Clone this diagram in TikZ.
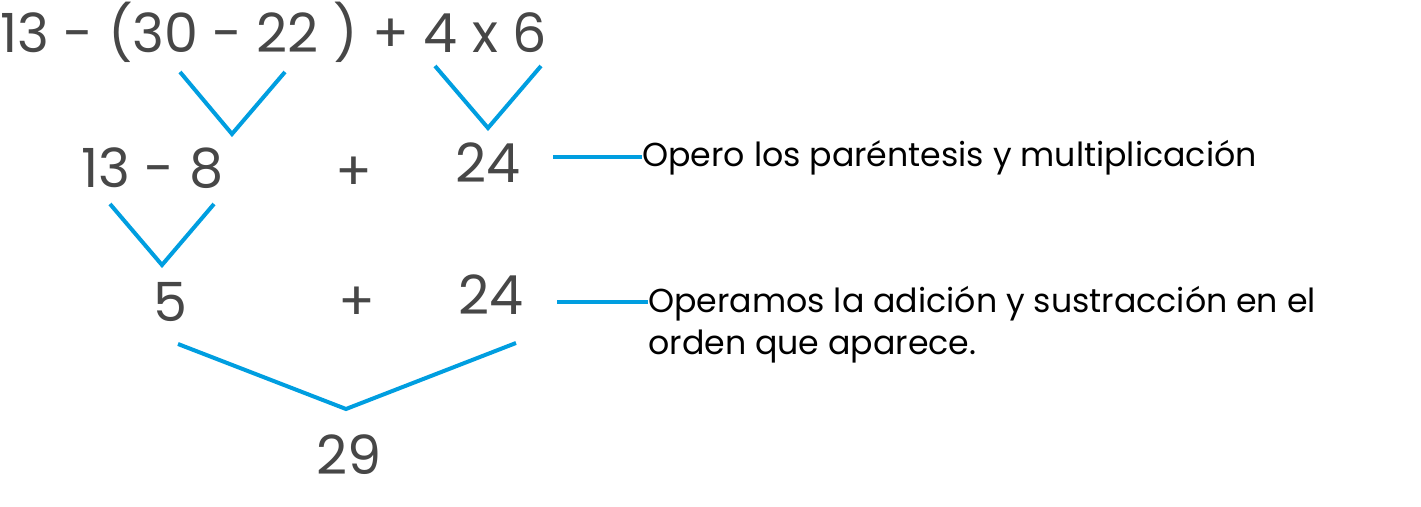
\documentclass[tikz,border=0pt]{standalone}
\usepackage{fontspec}
\setmainfont{Poppins}
\usepackage{xcolor}
\definecolor{numgray}{RGB}{71,71,71}
\definecolor{lineblue}{RGB}{0,158,224}

\begin{document}
\begin{tikzpicture}[x=0.5pt,y=-0.5pt,
  num/.style={anchor=base west,inner sep=0pt,text=numgray,font=\fontsize{27}{32}\selectfont},
  note/.style={anchor=base west,inner sep=0pt,text=black,align=left,font=\fontsize{16.6}{21}\selectfont},
  link/.style={draw=lineblue,line width=2pt}]
\useasboundingbox (0,0) rectangle (1421,507);
\node[num] (expr) at (0,53) {13 - (30 - 22 ) + 4 x 6};
\node[num] (diff) at (81,188) {13 - 8};
\node[num] (plusA) at (335,191) {+};
\node[num] (prod) at (455,183) {24};
\node[num] (five) at (153,322) {5};
\node[num] (plusB) at (338,321) {+};
\node[num] (prodB) at (458,315) {24};
\node[num] (sum) at (316,475) {29};
\node[note] (noteA) at (642,167) {Opero los paréntesis y multiplicación};
\node[note] (noteB) at (648,355) {Operamos la adición y sustracción en el\\orden que aparece.};
\coordinate (pA1) at (180,72);
\coordinate (pA2) at (232,134);
\coordinate (pA3) at (285,72);
\coordinate (mA1) at (435,66);
\coordinate (mA2) at (488,128);
\coordinate (mA3) at (541,66);
\coordinate (dA1) at (110,204);
\coordinate (dA2) at (162,265);
\coordinate (dA3) at (214,204);
\coordinate (sA1) at (178,344);
\coordinate (sA2) at (346,409);
\coordinate (sA3) at (516,343);
\coordinate (hA) at (553,157);
\coordinate (hB) at (557,302);
\draw[link] (pA1) -- (pA2) -- (pA3);
\draw[link] (mA1) -- (mA2) -- (mA3);
\draw[link] (dA1) -- (dA2) -- (dA3);
\draw[link] (sA1) -- (sA2) -- (sA3);
\draw[link] (hA) -- (hA -| noteA.west);
\draw[link] (hB) -- (hB -| noteB.west);
\end{tikzpicture}
\end{document}
